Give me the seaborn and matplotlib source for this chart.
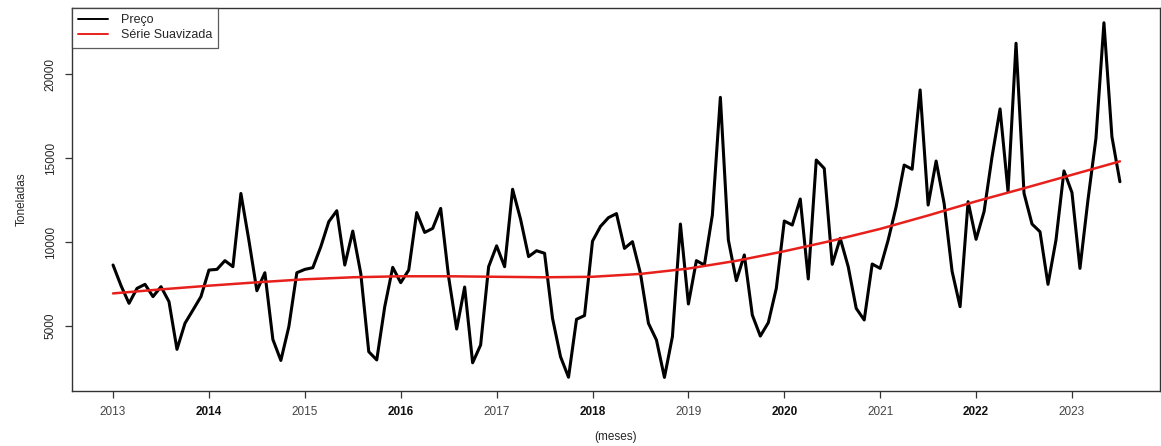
import numpy as np
import pandas as pd
import matplotlib
matplotlib.use("Agg")
import matplotlib.pyplot as plt
import seaborn as sns

# ---- data ----
y2013 = [8630, 7400, 6350, 7240, 7480, 6750, 7340, 6450, 3610, 5160, 5950, 6750]
y2014 = [8330, 8370, 8890, 8530, 12890, 10100, 7100, 8170, 4200, 2950, 4960, 8170]
y2015 = [8370, 8470, 9720, 11210, 11860, 8630, 10650, 8130, 3470, 2980, 6150, 8490]
y2016 = [7580, 8330, 11750, 10570, 10810, 12000, 7900, 4820, 7320, 2810, 3870, 8530]
y2017 = [9770, 8530, 13140, 11350, 9130, 9480, 9330, 5450, 3170, 1950, 5400, 5620]
y2018 = [10050, 10930, 11450, 11690, 9620, 10020, 8130, 5160, 4170, 1940, 4370, 11070]
y2019 = [6310, 8890, 8630, 11610, 18610, 10120, 7700, 9230, 5650, 4400, 5200, 7240]
y2020 = [11250, 11010, 12560, 7800, 14880, 14380, 8670, 10220, 8530, 6050, 5360, 8690]
y2021 = [8430, 10120, 12100, 14580, 14330, 19050, 12200, 14820, 12300, 8250, 6150, 12400]
y2022 = [10160, 11810, 15080, 17920, 13000, 21830, 12900, 11070, 10610, 7480, 10120, 14230]
y2023 = [12940, 8430, 12500, 16170, 23050, 16270, 13590]

smooth_t = [2013.0, 2013.5, 2014.0, 2014.5, 2015.0, 2015.5, 2016.0, 2016.5, 2017.0, 2017.5,
            2018.0, 2018.5, 2019.0, 2019.5, 2020.0, 2020.5, 2021.0, 2021.5, 2022.0, 2022.5,
            2023.0, 2023.5]
smooth_v = [6940, 7180, 7400, 7600, 7780, 7900, 7960, 7960, 7930, 7900,
            7930, 8100, 8420, 8880, 9450, 10080, 10780, 11580, 12420, 13200,
            14000, 14800]

year_ticks = [2013, 2014, 2015, 2016, 2017, 2018, 2019, 2020, 2021, 2022, 2023]
y_ticks = [5000, 10000, 15000, 20000]

price = y2013 + y2014 + y2015 + y2016 + y2017 + y2018 + y2019 + y2020 + y2021 + y2022 + y2023
t = 2013 + np.arange(len(price)) / 12.0
df = pd.DataFrame({"t": t, "v": price})
ds = pd.DataFrame({"t": smooth_t, "v": smooth_v})

sns.set_style("ticks")
plt.rcParams["font.family"] = ["Liberation Sans", "DejaVu Sans"]

fig = plt.figure(figsize=(11.61, 4.46), dpi=100)
ax = fig.add_axes([72 / 1161, 1 - 391 / 446, (1160 - 72) / 1161, (391 - 8) / 446])

sns.lineplot(data=df, x="t", y="v", ax=ax, color="black", linewidth=2.2, label="Preço")
sns.lineplot(data=ds, x="t", y="v", ax=ax, color="#e8201c", linewidth=1.8, label="Série Suavizada")

ax.set_xlim(2012.572, 2023.918)
ax.set_ylim(1131, 23929)
ax.set_xticks(year_ticks)
ax.set_xticklabels([str(y) for y in year_ticks])
for i, lab in enumerate(ax.get_xticklabels()):
    lab.set_fontweight("bold" if i % 2 == 1 else "normal")
    lab.set_color("#111111" if i % 2 == 1 else "#444444")
ax.set_yticks(y_ticks)
ax.set_yticklabels([str(v) for v in y_ticks], rotation=90, va="center")
ax.tick_params(axis="both", labelsize=8.5, length=5, width=0.9, color="#333333", direction="out")
ax.tick_params(axis="x", pad=6)
ax.tick_params(axis="y", pad=6)

for s in ax.spines.values():
    s.set_visible(True)
    s.set_color("#333333")
    s.set_linewidth(1.0)

ax.set_xlabel("(meses)", fontsize=8.5, labelpad=9)
ax.set_ylabel("Toneladas", fontsize=8.5, labelpad=12)

leg = ax.legend(loc="upper left", borderaxespad=0, fancybox=False, frameon=True,
                edgecolor="#333333", fontsize=9, handlelength=2.4, handletextpad=1.0,
                borderpad=0.5, labelspacing=0.25)
leg.get_frame().set_linewidth(0.9)
for h in leg.get_lines():
    h.set_linewidth(1.4)

fig.savefig("out.png", dpi=100)
